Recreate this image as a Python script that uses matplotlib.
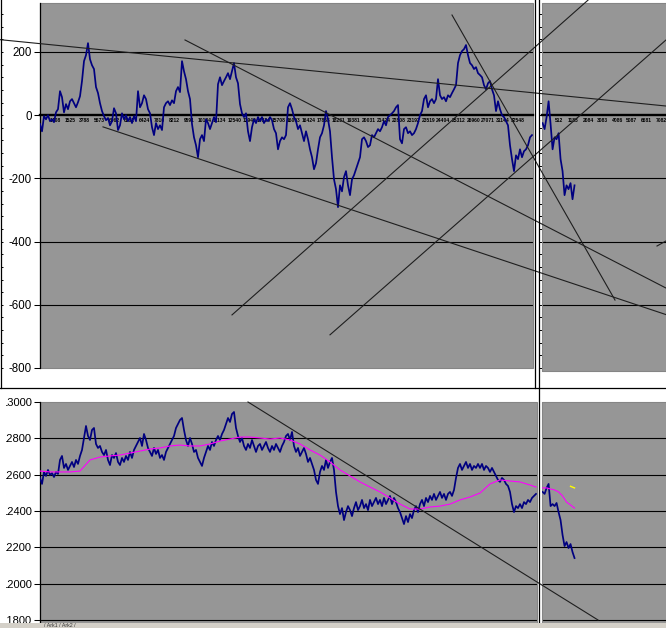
import numpy as np
import matplotlib
matplotlib.use("Agg")
import matplotlib.pyplot as plt
from matplotlib.lines import Line2D
from matplotlib.patches import Rectangle
from matplotlib.ticker import MultipleLocator
from matplotlib.transforms import Bbox, TransformedBbox

# ---------------- data ----------------
# upper chart (oscillator), left pane
osc_left = [
    -28, -51, -3, -13, 0, -19, -13, -22, 9, 19,
    76, 57, 9, 35, 19, 44, 51, 38, 25, 41,
    60, 108, 171, 190, 228, 177, 158, 146, 89, 70,
    38, 13, -3, -16, -9, -32, -19, 22, 6, -47,
    -32, 6, -13, 0, -19, -6, -25, -3, -19, 76,
    25, 38, 63, 51, 19, 6, -38, -63, -25, -44,
    -32, -47, 25, 38, 44, 32, 47, 38, 76, 89,
    73, 171, 139, 114, 76, 51, -28, -70, -95, -133,
    -76, -63, -82, -13, -25, -44, -25, -6, -22, 98,
    120, 95, 108, 120, 133, 114, 139, 165, 120, 101,
    35, 6, -6, 6, -51, -82, -38, -13, -25, -6,
    -19, -6, -25, -13, -19, -6, -16, -44, -57, -108,
    -82, -70, -76, -63, 25, 38, 19, -6, -19, -44,
    -32, -57, -82, -51, -76, -108, -133, -171, -152, -108,
    -70, -57, -32, 13, -13, -51, -133, -203, -234, -291,
    -222, -241, -196, -177, -222, -253, -203, -190, -171, -152,
    -133, -76, -70, -82, -101, -95, -63, -70, -57, -44,
    -51, -38, -19, -32, -6, 0, 6, 13, 25, 32,
    -76, -89, -44, -38, -57, -51, -63, -57, -44, -25,
    0, 13, 51, 63, 25, 44, 51, 38, 51, 114,
    63, 51, 57, 44, 63, 57, 70, 82, 95, 165,
    190, 203, 209, 222, 190, 165, 158, 146, 152, 133,
    127, 120, 95, 82, 101, 108, 82, 63, 13, 44,
    19, 0, -6, -19, -32, -95, -139, -177, -127, -139,
    -108, -133, -114, -108, -95, -70, -63,
]
osc_right = [-25, -44, -6, 44, -28, -108, -70, -76, -57, -139,
             -177, -253, -222, -234, -215, -266, -222]

# lower chart (index level), left pane
idx_left = [
    12582, 12549, 12615, 12593, 12626, 12598, 12609, 12587, 12615, 12604,
    12681, 12703, 12637, 12659, 12626, 12648, 12670, 12642, 12681, 12659,
    12703, 12736, 12802, 12868, 12813, 12791, 12846, 12857, 12769, 12747,
    12758, 12725, 12708, 12736, 12681, 12653, 12708, 12692, 12719, 12670,
    12653, 12692, 12670, 12703, 12681, 12725, 12692, 12736, 12758, 12780,
    12802, 12758, 12824, 12791, 12747, 12725, 12703, 12747, 12714, 12736,
    12692, 12708, 12681, 12725, 12747, 12769, 12791, 12813, 12857, 12879,
    12901, 12912, 12846, 12791, 12758, 12802, 12769, 12725, 12736, 12692,
    12670, 12648, 12692, 12725, 12758, 12736, 12780, 12758, 12791, 12813,
    12791, 12824, 12846, 12879, 12912, 12890, 12934, 12945, 12857, 12813,
    12780, 12802, 12758, 12736, 12769, 12747, 12791, 12758, 12725, 12758,
    12769, 12736, 12758, 12780, 12747, 12725, 12758, 12736, 12769, 12747,
    12725, 12758, 12780, 12813, 12824, 12791, 12835, 12758, 12725, 12747,
    12703, 12725, 12747, 12714, 12670, 12692, 12659, 12626, 12571, 12549,
    12615, 12648, 12626, 12681, 12637, 12670, 12692, 12626, 12505, 12427,
    12383, 12416, 12350, 12394, 12427, 12405, 12372, 12416, 12449, 12405,
    12427, 12461, 12416, 12438, 12405, 12461, 12427, 12449, 12472, 12438,
    12461, 12427, 12472, 12438, 12461, 12483, 12438, 12472, 12449, 12416,
    12394, 12361, 12328, 12372, 12339, 12383, 12361, 12405, 12427, 12394,
    12438, 12461, 12427, 12472, 12449, 12483, 12461, 12494, 12461, 12483,
    12505, 12472, 12494, 12461, 12494, 12505, 12483, 12516, 12582, 12637,
    12659, 12626, 12648, 12670, 12637, 12659, 12626, 12648, 12637, 12659,
    12637, 12659, 12626, 12648, 12637, 12615, 12637, 12615, 12593, 12571,
    12560, 12582, 12571, 12549, 12538, 12505, 12438, 12394, 12427, 12416,
    12438, 12416, 12449, 12438, 12461, 12449, 12472, 12483, 12494,
]
idx_right = [12505, 12494, 12527, 12549, 12427, 12438, 12427, 12444, 12394,
             12350, 12268, 12207, 12229, 12196, 12218, 12174, 12141]

# moving average (magenta)
ma_left_bar = list(range(0, 250, 5)) + [248]
ma_left = [
    12620, 12615, 12615, 12615, 12620, 12681, 12697, 12703, 12708, 12719,
    12730, 12741, 12747, 12758, 12763, 12758, 12758, 12769, 12785, 12796,
    12807, 12807, 12802, 12796, 12802, 12791, 12769, 12736, 12708, 12670,
    12626, 12593, 12560, 12532, 12505, 12472, 12438, 12411, 12411, 12422,
    12427, 12438, 12461, 12477, 12499, 12549, 12571, 12565, 12560, 12543,
    12532,
]
ma_right_bar = [0, 2, 4, 6, 8, 10, 12, 14, 16]
ma_right = [12527, 12527, 12521, 12516, 12505, 12483, 12449, 12433, 12416]
sig_right_bar = [14, 16]
sig_right = [12536, 12527]

# hand-drawn trend lines: (bar, value) end points
osc_trends = [
    ((-20, 239), (313, 29)),
    ((31.5, -37), (313, -631)),
    ((72.5, 238), (313, -547)),
    ((206, 317), (287.5, -585)),
    ((96, -632), (274, 364)),
    ((145, -695), (313, 238)),
    ((308.5, -414), (313, -398)),
]
idx_trends = [((104, 13000), (279, 11800))]

# axis labels
osc_yticks = [200, 0, -200, -400, -600, -800]
osc_grid = [200, -200, -400, -600]
idx_yticks = [13000, 12800, 12600, 12400, 12200, 12000, 11800]
idx_grid = [12800, 12600, 12400, 12200, 12000, 11800]
bar_labels_left = ["1408", "1525", "3788", "5673", "6062", "6881", "6424", "7810",
                   "8212", "9591", "10134", "11134", "12540", "13940", "14324",
                   "15708", "16093", "16424", "17863", "18231", "19381", "20031",
                   "21424", "22808", "23192", "23519", "24404", "25312", "26960",
                   "27071", "31144", "32548"]
bar_labels_right = ["512", "1183", "2084", "3083", "4086", "5087", "6681", "7082"]

# ---------------- layout ----------------
W, H = 666, 628
fig = plt.figure(figsize=(W / 100, H / 100), dpi=100)
fig.patch.set_facecolor("white")


def rect(x0, y0, x1, y1):
    return [x0 / W, 1 - y1 / H, (x1 - x0) / W, (y1 - y0) / H]


GRAY = "#969696"
NAVY = "#000080"
FONT = "Liberation Sans"
NARROW = ["Liberation Sans Narrow", "Liberation Sans"]


def base(ax, xlim, ylim, grid):
    ax.set_facecolor(GRAY)
    ax.set_xlim(*xlim)
    ax.set_ylim(*ylim)
    for s in ax.spines.values():
        s.set_visible(False)
    ax.set_axisbelow(True)
    for g in grid:
        ax.axhline(g, color="black", lw=0.8, zorder=1)
    ax.add_patch(Rectangle((0, 0), 1, 1, transform=ax.transAxes, fill=False,
                           ec="#858585", lw=0.8, zorder=1.5, clip_on=False))
    ax.set_xticks([])
    ax.set_yticks([])


osc_ylim = (-800, 355)
ax1 = fig.add_axes(rect(40, 3, 532.5, 368))
base(ax1, (0, 246.25), osc_ylim, osc_grid)
ax2 = fig.add_axes(rect(542.3, 3, 668, 370.7))
base(ax2, (-0.15, 62.85), (-808.5, 355), osc_grid)

idx_ylim = (11783.4, 13000)
ax3 = fig.add_axes(rect(40, 402, 537, 623))
base(ax3, (0, 248.5), idx_ylim, idx_grid)
ax4 = fig.add_axes(rect(542.3, 402.3, 668, 623))
base(ax4, (-0.15, 62.85), (11783.4, 12998.3), idx_grid)

# series
ax1.plot(np.arange(len(osc_left)), osc_left, color=NAVY, lw=1.25, zorder=3)
ax2.plot(np.arange(len(osc_right)), osc_right, color=NAVY, lw=1.25, zorder=3)
ax3.plot(np.arange(len(idx_left)), idx_left, color=NAVY, lw=1.25, zorder=3)
ax3.plot(ma_left_bar, ma_left, color="#ff00ff", lw=0.8, zorder=4)
ax4.plot(np.arange(len(idx_right)), idx_right, color=NAVY, lw=1.25, zorder=3)
ax4.plot(ma_right_bar, ma_right, color="#ff00ff", lw=0.8, zorder=4)
ax4.plot(sig_right_bar, sig_right, color="#ffff00", lw=1.0, zorder=4)

# zero axes of the oscillator panes with tiny category labels
for ax, labels, px0, step in ((ax1, bar_labels_left, 55, 14.94),
                              (ax2, bar_labels_right, 559, 14.6)):
    sp = ax.spines["bottom"]
    sp.set_visible(True)
    sp.set_position(("data", 0))
    sp.set_linewidth(1.7)
    sp.set_color("black")
    sp.set_zorder(2.5)
    x0 = ax.get_xlim()[0]
    left_px = 40 if ax is ax1 else 542.3
    pos = [x0 + (px0 + step * k - left_px) / 2 for k in range(len(labels))]
    ax.set_xticks(pos, labels, fontsize=3.6, fontweight="bold", fontfamily=NARROW)
    ax.tick_params(axis="x", length=0, pad=2.2, colors="black")

# left value axes
for ax, ticks, labels, size in ((ax1, osc_yticks, [str(t) for t in osc_yticks], 8.3),
                                (ax3, idx_yticks, [str(t) for t in idx_yticks], 8.0)):
    ax.spines["left"].set_visible(True)
    ax.spines["left"].set_color("black")
    ax.spines["left"].set_linewidth(0.9)
    ax.set_yticks(ticks, labels, fontsize=size, fontfamily=FONT)
    ax.tick_params(axis="y", length=4.3, width=0.75, pad=1.8, colors="black")

# the leading digit of the lower-chart labels is cut by the window edge
clip = TransformedBbox(Bbox.from_extents(5.6 / W, 0, 1, 1), fig.transFigure)
for lab in ax3.get_yticklabels():
    lab.set_clip_box(clip)
    lab.set_clip_on(True)

# small marks along the separator of the upper right pane
ax2.yaxis.set_minor_locator(MultipleLocator(40))
ax2.tick_params(axis="y", which="minor", left=True, length=2.4, width=0.7,
                color="black", direction="out")

# small marks along the far-left border
ax0 = fig.add_axes(rect(0.8, 3, 1.6, 368))
ax0.set_ylim(*osc_ylim)
ax0.patch.set_visible(False)
for s in ax0.spines.values():
    s.set_visible(False)
ax0.set_xticks([])
ax0.set_yticks([])
ax0.yaxis.set_minor_locator(MultipleLocator(40))
ax0.tick_params(axis="y", which="minor", left=True, length=1.6, width=0.7,
                color="black", direction="in")

# trend lines drawn over everything
for (a, b) in osc_trends:
    fig.add_artist(Line2D([a[0], b[0]], [a[1], b[1]], transform=ax1.transData,
                          color="#1e1e1e", lw=0.8, zorder=5))
for (a, b) in idx_trends:
    fig.add_artist(Line2D([a[0], b[0]], [a[1], b[1]], transform=ax3.transData,
                          color="#1e1e1e", lw=0.8, zorder=5))


# window separators
def vline(x, y0, y1, lw=0.9):
    fig.add_artist(Line2D([x / W, x / W], [1 - y0 / H, 1 - y1 / H],
                          transform=fig.transFigure, color="black", lw=lw, zorder=6))


def hline(y, x0, x1, lw=0.9):
    fig.add_artist(Line2D([x0 / W, x1 / W], [1 - y / H, 1 - y / H],
                          transform=fig.transFigure, color="black", lw=lw, zorder=6))


vline(535.3, 0, 388.3)
vline(538.7, 0, 628)
vline(0.6, 0, 388.3)
hline(388.3, 0, 666)

# sheet-tab strip at the bottom
fig.add_artist(Rectangle((0, 0), 1, 5.5 / H, transform=fig.transFigure,
                         facecolor="#d4d0c8", edgecolor="none", zorder=7))
fig.text(44 / W, 1 - 625.4 / H, "/ Ark1 / Ark2 /", fontsize=3.8, fontfamily=FONT,
         color="#333333", va="center", ha="left", zorder=8)

fig.savefig("out.png", dpi=100)
